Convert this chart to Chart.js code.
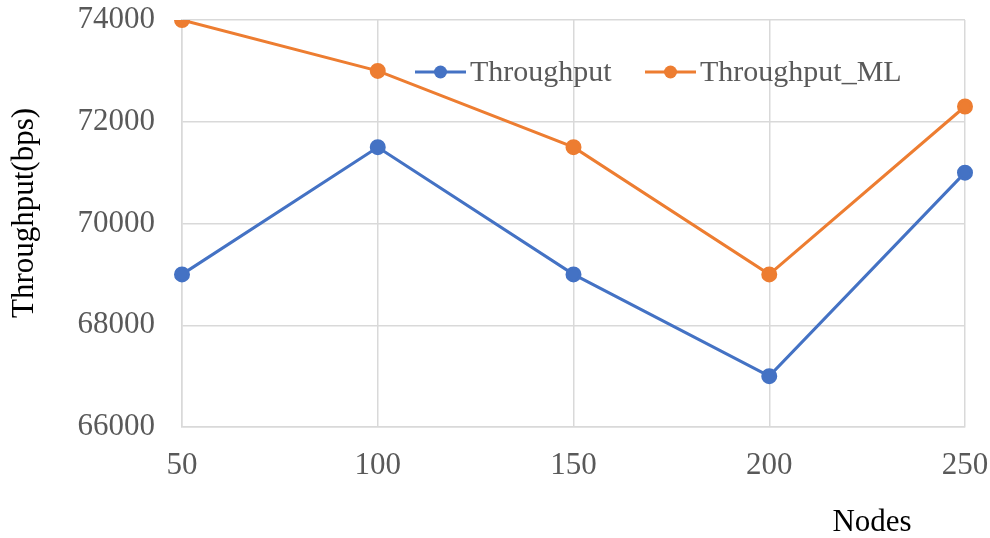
<!DOCTYPE html>
<html>
<head>
<meta charset="utf-8">
<script src="https://cdn.jsdelivr.net/npm/chart.js@4/dist/chart.umd.min.js"></script>
<style>
  html, body { margin: 0; padding: 0; background: #fff; }
  #wrap { width: 990px; height: 538px; }
</style>
</head>
<body>
<div id="wrap"><canvas id="c" width="990" height="538"></canvas></div>
<script>
// Node counts on the x axis
const nodes = ['50', '100', '150', '200', '250'];
// Throughput series (bps)
const throughput = [69000, 71500, 69000, 67000, 71000];
const throughputML = [74000, 73000, 71500, 69000, 72300];
// Y axis range and tick spacing
const yMin = 66000, yMax = 74000, yStep = 2000;

const serif = '"Liberation Serif", "Times New Roman", serif';
const tickColor = '#595959';
const gridColor = '#d9d9d9';

// Legend drawn inside the plot, near the top
const innerLegend = {
  id: 'innerLegend',
  afterDraw(chart) {
    const ctx = chart.ctx;
    const area = chart.chartArea;
    const y = area.top + 52;
    const starts = [area.left + 233, area.left + 463];
    ctx.save();
    ctx.font = '30px ' + serif;
    ctx.textBaseline = 'middle';
    chart.data.datasets.forEach((ds, i) => {
      const x = starts[i];
      ctx.strokeStyle = ds.borderColor;
      ctx.lineWidth = 3;
      ctx.beginPath();
      ctx.moveTo(x, y);
      ctx.lineTo(x + 51, y);
      ctx.stroke();
      ctx.fillStyle = ds.backgroundColor;
      ctx.beginPath();
      ctx.arc(x + 25.5, y, 6.5, 0, Math.PI * 2);
      ctx.fill();
      ctx.fillStyle = tickColor;
      ctx.textAlign = 'left';
      ctx.fillText(ds.label, x + 55, y + 1);
    });
    ctx.restore();
  }
};

// Axis titles: "Nodes" under the right part of the x axis, rotated y title on the left
const axisTitles = {
  id: 'axisTitles',
  afterDraw(chart) {
    const ctx = chart.ctx;
    const area = chart.chartArea;
    ctx.save();
    ctx.font = '31px ' + serif;
    ctx.fillStyle = '#000';
    ctx.textAlign = 'center';
    ctx.textBaseline = 'middle';
    ctx.fillText('Nodes', area.right - 93, area.bottom + 96);
    ctx.translate(area.left - 157, area.top + 193);
    ctx.rotate(-Math.PI / 2);
    ctx.fillText('Throughput(bps)', 0, 0);
    ctx.restore();
  }
};

new Chart(document.getElementById('c'), {
  type: 'line',
  data: {
    labels: nodes,
    datasets: [
      {
        label: 'Throughput',
        data: throughput,
        borderColor: '#4472C4',
        backgroundColor: '#4472C4',
        borderWidth: 3,
        pointRadius: 6.5,
        pointHoverRadius: 6.5,
        tension: 0
      },
      {
        label: 'Throughput_ML',
        data: throughputML,
        borderColor: '#ED7D31',
        backgroundColor: '#ED7D31',
        borderWidth: 3,
        pointRadius: 6.5,
        pointHoverRadius: 6.5,
        tension: 0
      }
    ]
  },
  options: {
    responsive: false,
    animation: false,
    layout: { padding: { top: 20, right: 25, bottom: 0, left: 0 } },
    plugins: {
      legend: { display: false },
      tooltip: { enabled: false }
    },
    scales: {
      x: {
        offset: false,
        grid: { color: gridColor, lineWidth: 1.5, drawTicks: false },
        border: { color: gridColor, width: 1.5 },
        ticks: {
          color: tickColor,
          font: { family: serif, size: 31 },
          padding: 20,
          maxRotation: 0
        },
        afterFit(scale) {
          scale.height = 111;
          scale.paddingLeft = 0;
          scale.paddingRight = 0;
        }
      },
      y: {
        min: yMin,
        max: yMax,
        grid: { color: gridColor, lineWidth: 1.5, drawTicks: false },
        border: { color: gridColor, width: 1.5 },
        ticks: {
          stepSize: yStep,
          color: tickColor,
          font: { family: serif, size: 31 },
          padding: 27,
          callback: (v) => String(v)
        },
        afterFit(scale) {
          scale.width = 182;
          scale.paddingTop = 0;
          scale.paddingBottom = 0;
        }
      }
    }
  },
  plugins: [innerLegend, axisTitles]
});
</script>
</body>
</html>
